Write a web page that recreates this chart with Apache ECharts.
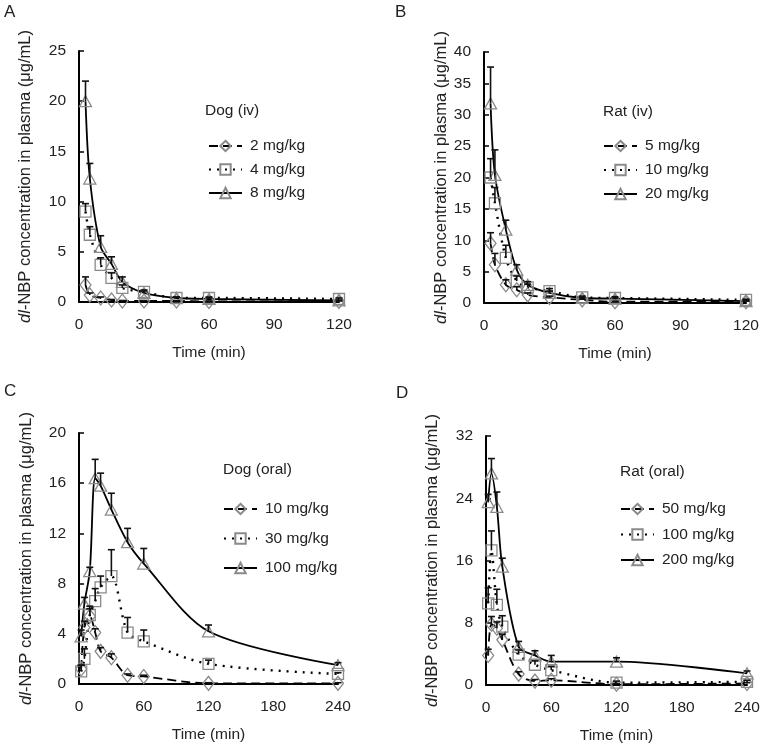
<!DOCTYPE html>
<html>
<head>
<meta charset="utf-8">
<script src="https://cdn.jsdelivr.net/npm/echarts@6/dist/echarts.min.js"></script>
<style>
html,body{margin:0;padding:0;background:#fff;}
#chart{width:763px;height:748px;}
</style>
</head>
<body>
<div id="chart"></div>
<script>
// ---------- Data ----------
// Panel A: Dog (iv)
const timesA = [3, 5, 10, 15, 20, 30, 45, 60, 120];
const dogIv2 = [1.7, 0.7, 0.4, 0.2, 0.1, 0.1, 0.1, 0.05, 0.05];
const dogIv2Sd = [0.8, 0.2, 0.1, 0.05, 0.05, 0.05, 0.05, 0.05, 0.05];
const dogIv4 = [9.0, 6.7, 3.7, 2.4, 1.4, 1.0, 0.4, 0.4, 0.3];
const dogIv4Sd = [0.8, 0.8, 0.7, 0.5, 0.3, 0.2, 0.1, 0.1, 0.1];
const dogIv8 = [20.0, 12.3, 5.5, 3.8, 2.0, 0.9, 0.4, 0.3, 0.15];
const dogIv8Sd = [2.0, 1.5, 1.1, 0.7, 0.5, 0.2, 0.1, 0.1, 0.05];

// Panel B: Rat (iv)
const timesB = [3, 5, 10, 15, 20, 30, 45, 60, 120];
const ratIv5 = [9.5, 6.1, 2.9, 2.1, 1.3, 0.9, 0.5, 0.2, 0.2];
const ratIv5Sd = [1.7, 1.8, 0.8, 0.5, 0.3, 0.2, 0.1, 0.1, 0.1];
const ratIv10 = [20.0, 15.9, 7.2, 3.5, 2.5, 1.9, 0.9, 0.8, 0.5];
const ratIv10Sd = [3.0, 2.5, 2.0, 0.8, 0.5, 0.4, 0.2, 0.2, 0.1];
const ratIv20 = [31.8, 20.4, 11.7, 5.3, 2.9, 1.6, 0.8, 0.7, 0.3];
const ratIv20Sd = [5.8, 4.0, 1.5, 0.8, 0.5, 0.3, 0.1, 0.1, 0.1];

// Panel C: Dog (oral)
const timesC = [2, 5, 10, 15, 20, 30, 45, 60, 120, 240];
const dogOr10 = [1.2, 4.5, 5.4, 4.1, 2.6, 2.1, 0.7, 0.6, 0.05, 0.05];
const dogOr10Sd = [0.3, 0.5, 0.6, 0.3, 0.3, 0.3, 0.1, 0.1, 0.05, 0.05];
const dogOr30 = [1.0, 2.0, 5.5, 6.6, 7.7, 8.6, 4.1, 3.4, 1.6, 0.8];
const dogOr30Sd = [0.5, 0.8, 0.7, 1.0, 0.9, 2.1, 1.2, 0.9, 0.3, 0.1];
const dogOr100 = [3.8, 6.4, 9.0, 16.4, 15.8, 13.9, 11.3, 9.6, 4.2, 1.5];
const dogOr100Sd = [0.5, 0.5, 0.3, 1.5, 1.0, 1.3, 1.1, 1.2, 0.5, 0.2];

// Panel D: Rat (oral)
const timesD = [2, 5, 10, 15, 30, 45, 60, 120, 240];
const ratOr50 = [3.8, 7.8, 7.3, 5.8, 1.4, 0.5, 0.6, 0.1, 0.2];
const ratOr50Sd = [0.8, 1.0, 0.8, 0.7, 0.3, 0.2, 0.2, 0.1, 0.1];
const ratOr100 = [10.5, 17.3, 10.3, 7.5, 3.9, 2.6, 1.9, 0.3, 0.4];
const ratOr100Sd = [2.0, 2.5, 2.0, 1.4, 0.6, 0.5, 0.5, 0.2, 0.2];
const ratOr200 = [23.5, 27.2, 22.9, 15.2, 4.9, 3.8, 3.0, 3.0, 1.5];
const ratOr200Sd = [1.0, 1.9, 1.9, 1.1, 0.7, 0.6, 0.8, 0.5, 0.3];

// Axis settings / labels
const panelLetters = ['A', 'B', 'C', 'D'];
const panelTitles = ['Dog (iv)', 'Rat (iv)', 'Dog (oral)', 'Rat (oral)'];
const doseNames = [
  ['2 mg/kg', '4 mg/kg', '8 mg/kg'],
  ['5 mg/kg', '10 mg/kg', '20 mg/kg'],
  ['10 mg/kg', '30 mg/kg', '100 mg/kg'],
  ['50 mg/kg', '100 mg/kg', '200 mg/kg']
];
const yMax = [25, 40, 20, 32];
const yInterval = [5, 5, 4, 8];
const xMax = [120, 120, 240, 240];
const xInterval = [30, 30, 60, 60];

// ---------- Build ----------
const FONT = 'Liberation Sans, Arial, sans-serif';
const TXT = '#222';
const FS = 15.5;
const grids = [
  {left: 79, top: 51, width: 260, height: 251},
  {left: 484, top: 52, width: 262, height: 251},
  {left: 79, top: 433, width: 259, height: 251},
  {left: 486, top: 436, width: 261, height: 249}
];
const yNameGap = [45, 34, 44, 45];
const legendPos = [
  {left: 208, top: 138, gap: 7.5, title: [205, 103]},
  {left: 603, top: 138, gap: 8, title: [603, 104]},
  {left: 223, top: 501, gap: 13.5, title: [223, 462]},
  {left: 620, top: 501, gap: 9.5, title: [620, 464]}
];
const letterPos = [[4, 4], [395, 4], [4, 383], [396, 385]];

const panelData = [
  {t: timesA, s: [[dogIv2, dogIv2Sd], [dogIv4, dogIv4Sd], [dogIv8, dogIv8Sd]]},
  {t: timesB, s: [[ratIv5, ratIv5Sd], [ratIv10, ratIv10Sd], [ratIv20, ratIv20Sd]]},
  {t: timesC, s: [[dogOr10, dogOr10Sd], [dogOr30, dogOr30Sd], [dogOr100, dogOr100Sd]]},
  {t: timesD, s: [[ratOr50, ratOr50Sd], [ratOr100, ratOr100Sd], [ratOr200, ratOr200Sd]]}
];

const symbols = ['diamond', 'rect', 'triangle'];
const symbolSizes = [[11, 14], [11, 11], [12, 11]];
const lineTypes = [[9, 5], [2, 6], 'solid'];
const lineWidths = [1.8, 2.4, 1.8];

const option = {
  backgroundColor: '#fff',
  animation: false,
  textStyle: {fontFamily: FONT},
  grid: grids.map(g => Object.assign({containLabel: false, outerBoundsMode: 'none'}, g)),
  xAxis: [], yAxis: [], series: [], legend: [], title: []
};

function errRender(params, api) {
  const x = api.value(0), y = api.value(1), e = api.value(2);
  const p0 = api.coord([x, y]);
  const p1 = api.coord([x, y + e]);
  const st = {stroke: '#111', lineWidth: 1.6};
  return {type: 'group', children: [
    {type: 'line', shape: {x1: p0[0], y1: p0[1], x2: p1[0], y2: p1[1]}, style: st},
    {type: 'line', shape: {x1: p1[0] - 3.5, y1: p1[1], x2: p1[0] + 3.5, y2: p1[1]}, style: st}
  ]};
}

for (let i = 0; i < 4; i++) {
  option.xAxis.push({
    type: 'value', gridIndex: i, min: 0, max: xMax[i], interval: xInterval[i],
    name: 'Time (min)', nameLocation: 'middle', nameGap: 43,
    nameTextStyle: {fontSize: FS, color: TXT, fontFamily: FONT},
    axisLine: {show: true, onZero: false, lineStyle: {color: '#000', width: 2}},
    axisTick: {show: false},
    axisLabel: {fontSize: FS, color: TXT, margin: 15, fontFamily: FONT},
    splitLine: {show: false}
  });
  option.yAxis.push({
    type: 'value', gridIndex: i, min: 0, max: yMax[i], interval: yInterval[i],
    name: '{i|dl}-NBP concentration in plasma (μg/mL)', nameLocation: 'middle', nameGap: yNameGap[i],
    nameTextStyle: {fontSize: 16.5, color: TXT, fontFamily: FONT,
      rich: {i: {fontStyle: 'italic', fontSize: 16.5, color: TXT, fontFamily: FONT}}},
    axisLine: {show: true, onZero: false, lineStyle: {color: '#000', width: 2}},
    axisTick: {show: true, inside: true, length: 5, lineStyle: {color: '#000', width: 1.5}},
    axisLabel: {fontSize: FS, color: TXT, margin: 13, fontFamily: FONT},
    splitLine: {show: false}
  });
  const pd = panelData[i];
  const legendNames = [];
  for (let k = 0; k < 3; k++) {
    const name = panelLetters[i] + '|' + doseNames[i][k];
    legendNames.push(name);
    const vals = pd.s[k][0], sds = pd.s[k][1];
    option.series.push({
      type: 'line', name: name, xAxisIndex: i, yAxisIndex: i,
      data: pd.t.map((t, j) => [t, vals[j]]),
      smooth: 0.3,
      symbol: symbols[k], symbolSize: symbolSizes[k],
      itemStyle: {color: 'rgba(255,255,255,0)', borderColor: '#8a8a8a', borderWidth: 1.3},
      lineStyle: {color: '#000', width: lineWidths[k], type: lineTypes[k]},
      z: 3
    });
    option.series.push({
      type: 'custom', name: name + '-err', xAxisIndex: i, yAxisIndex: i,
      data: pd.t.map((t, j) => [t, vals[j], sds[j]]),
      renderItem: errRender, z: 4, silent: true
    });
  }
  const lp = legendPos[i];
  option.legend.push({
    left: lp.left, top: lp.top, orient: 'vertical', padding: 0,
    itemWidth: 33, itemHeight: 13, itemGap: lp.gap,
    data: legendNames,
    formatter: n => n.split('|')[1],
    textStyle: {fontSize: FS, lineHeight: 16, color: TXT, fontFamily: FONT, padding: [0, 0, 0, 3]},
    selectedMode: false
  });
  option.title.push({
    text: panelTitles[i], left: lp.title[0], top: lp.title[1],
    textStyle: {fontSize: FS, fontWeight: 'normal', color: TXT, fontFamily: FONT}, padding: 0
  });
  option.title.push({
    text: panelLetters[i], left: letterPos[i][0], top: letterPos[i][1],
    textStyle: {fontSize: 17, fontWeight: 'normal', color: TXT, fontFamily: FONT}, padding: 0
  });
}

const chart = echarts.init(document.getElementById('chart'), null, {renderer: 'canvas'});
chart.setOption(option);
</script>
</body>
</html>
